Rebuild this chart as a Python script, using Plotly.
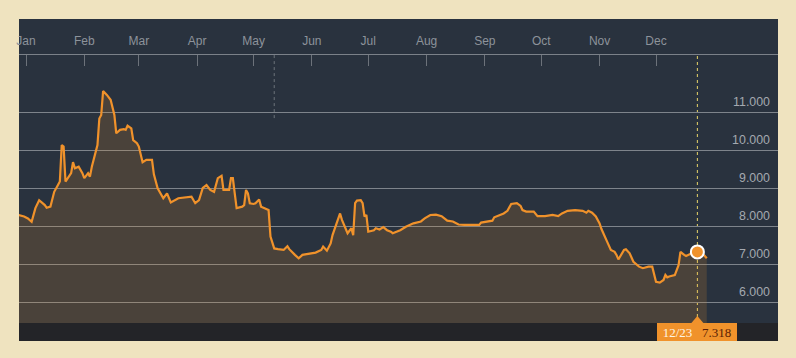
import plotly.graph_objects as go

# ---- data ----
dates = [
    "2015-12-28", "2015-12-31", "2016-01-02", "2016-01-04", "2016-01-06", "2016-01-08",
    "2016-01-11", "2016-01-12", "2016-01-14", "2016-01-16", "2016-01-18", "2016-01-19",
    "2016-01-20", "2016-01-21", "2016-01-22", "2016-01-24", "2016-01-25", "2016-01-26",
    "2016-01-27", "2016-01-29", "2016-01-31", "2016-02-01", "2016-02-03", "2016-02-04",
    "2016-02-05", "2016-02-08", "2016-02-09", "2016-02-10", "2016-02-11", "2016-02-13",
    "2016-02-15", "2016-02-17", "2016-02-18", "2016-02-20", "2016-02-22", "2016-02-23",
    "2016-02-24", "2016-02-26", "2016-02-27", "2016-02-29", "2016-03-01", "2016-03-03",
    "2016-03-05", "2016-03-08", "2016-03-09", "2016-03-11", "2016-03-13", "2016-03-14",
    "2016-03-16", "2016-03-17", "2016-03-18", "2016-03-22", "2016-03-25", "2016-03-29",
    "2016-03-31", "2016-04-02", "2016-04-04", "2016-04-06", "2016-04-08", "2016-04-10",
    "2016-04-12", "2016-04-14", "2016-04-15", "2016-04-18", "2016-04-19", "2016-04-20",
    "2016-04-21", "2016-04-22", "2016-04-25", "2016-04-26", "2016-04-27", "2016-04-28",
    "2016-04-29", "2016-05-01", "2016-05-02", "2016-05-04", "2016-05-05", "2016-05-07",
    "2016-05-09", "2016-05-10", "2016-05-12", "2016-05-14", "2016-05-17", "2016-05-19",
    "2016-05-20", "2016-05-23", "2016-05-25", "2016-05-27", "2016-05-30", "2016-06-03",
    "2016-06-06", "2016-06-07", "2016-06-09", "2016-06-11", "2016-06-12", "2016-06-14",
    "2016-06-15", "2016-06-16", "2016-06-17", "2016-06-19", "2016-06-20", "2016-06-22",
    "2016-06-23", "2016-06-24", "2016-06-25", "2016-06-27", "2016-06-28", "2016-06-29",
    "2016-06-30", "2016-07-01", "2016-07-04", "2016-07-05", "2016-07-07", "2016-07-09",
    "2016-07-11", "2016-07-13", "2016-07-14", "2016-07-18", "2016-07-21", "2016-07-25",
    "2016-07-29", "2016-07-31", "2016-08-03", "2016-08-06", "2016-08-09", "2016-08-12",
    "2016-08-15", "2016-08-18", "2016-08-21", "2016-08-29", "2016-08-30", "2016-09-05",
    "2016-09-06", "2016-09-11", "2016-09-13", "2016-09-15", "2016-09-18", "2016-09-20",
    "2016-09-21", "2016-09-23", "2016-09-27", "2016-09-29", "2016-10-03", "2016-10-07",
    "2016-10-10", "2016-10-12", "2016-10-15", "2016-10-19", "2016-10-23", "2016-10-25",
    "2016-10-26", "2016-10-28", "2016-10-30", "2016-11-01", "2016-11-02", "2016-11-05",
    "2016-11-07", "2016-11-09", "2016-11-10", "2016-11-11", "2016-11-14", "2016-11-15",
    "2016-11-17", "2016-11-19", "2016-11-22", "2016-11-24", "2016-11-27", "2016-11-29",
    "2016-11-30", "2016-12-01", "2016-12-03", "2016-12-05", "2016-12-06", "2016-12-07",
    "2016-12-08", "2016-12-11", "2016-12-13", "2016-12-14", "2016-12-16", "2016-12-17",
    "2016-12-20", "2016-12-23", "2016-12-25", "2016-12-28",
]
values = [
    8.29, 8.25, 8.20, 8.11, 8.47, 8.68,
    8.55, 8.48, 8.51, 8.90, 9.08, 9.17,
    10.13, 10.09, 9.17, 9.30, 9.39, 9.68,
    9.52, 9.56, 9.39, 9.26, 9.39, 9.30,
    9.56, 10.13, 10.83, 10.92, 11.55, 11.45,
    11.32, 10.92, 10.44, 10.53, 10.55, 10.53,
    10.64, 10.57, 10.26, 10.18, 10.09, 9.68,
    9.74, 9.74, 9.36, 8.99, 8.82, 8.73,
    8.86, 8.75, 8.62, 8.73, 8.75, 8.77,
    8.60, 8.68, 9.00, 9.08, 8.95, 8.90,
    9.26, 9.32, 8.95, 8.95, 9.26, 9.26,
    8.86, 8.47, 8.51, 8.55, 8.95, 8.86,
    8.60, 8.58, 8.60, 8.70, 8.51, 8.47,
    8.42, 7.72, 7.41, 7.39, 7.37, 7.47,
    7.39, 7.24, 7.15, 7.24, 7.26, 7.30,
    7.37, 7.46, 7.35, 7.54, 7.76, 8.07,
    8.20, 8.33, 8.16, 7.89, 7.81, 7.94,
    7.76, 8.60, 8.67, 8.68, 8.60, 8.25,
    8.29, 7.85, 7.89, 7.94, 7.91, 7.97,
    7.89, 7.85, 7.81, 7.89, 7.98, 8.07,
    8.12, 8.20, 8.29, 8.30, 8.26, 8.14,
    8.12, 8.04, 8.03, 8.03, 8.09, 8.14,
    8.23, 8.33, 8.40, 8.58, 8.60, 8.53,
    8.42, 8.38, 8.38, 8.26, 8.26, 8.29,
    8.26, 8.33, 8.40, 8.42, 8.40, 8.35,
    8.40, 8.35, 8.25, 8.07, 7.92, 7.59,
    7.37, 7.32, 7.24, 7.12, 7.37, 7.39,
    7.28, 7.06, 6.93, 6.89, 6.93, 6.93,
    6.71, 6.53, 6.51, 6.58, 6.71, 6.65,
    6.67, 6.71, 6.97, 7.32, 7.24, 7.21,
    7.28, 7.318, 7.32, 7.15,
]
month_ticks = [
    "2016-01-01", "2016-02-01", "2016-03-01", "2016-04-01", "2016-05-01", "2016-06-01",
    "2016-07-01", "2016-08-01", "2016-09-01", "2016-10-01", "2016-11-01", "2016-12-01",
]
y_ticks = [6, 7, 8, 9, 10, 11]
highlight_date = "2016-12-23"
highlight_label = "12/23"
event_date = "2016-05-12"

hl_value = values[dates.index(highlight_date)]

# ---- styling ----
BG = "#29323e"
ORANGE = "#f0922b"
CREAM = "#efe3bf"
x_range = ["2015-12-28 06:43", "2017-02-03 21:00"]
y_range = [4.974, 12.5]
bar_top = 18 / 286  # bottom dark bar height (paper fraction)

fig = go.Figure()
fig.add_trace(go.Scatter(
    x=dates, y=values, mode="lines",
    line=dict(color=ORANGE, width=2.2),
    fill="tozeroy", fillcolor="rgba(240,147,43,0.17)",
    hoverinfo="skip", showlegend=False,
))
fig.add_trace(go.Scatter(
    x=[highlight_date], y=[hl_value], mode="markers",
    marker=dict(size=13, color=ORANGE, line=dict(color="#ffffff", width=2)),
    hoverinfo="skip", showlegend=False,
))

shapes = [
    dict(type="rect", xref="paper", yref="paper", x0=0, x1=1, y0=0, y1=1 + 36 / 286,
         fillcolor=BG, line=dict(width=0), layer="below"),
    dict(type="line", xref="x", yref="y", x0=event_date, x1=event_date,
         y0=10.84, y1=y_range[1], line=dict(color="#6d737b", width=1, dash="dot"),
         layer="below"),
    dict(type="line", xref="x", yref="paper", x0=highlight_date, x1=highlight_date,
         y0=bar_top, y1=1, line=dict(color="#e8d46a", width=1, dash="dot"),
         layer="below"),
    dict(type="rect", xref="paper", yref="paper", x0=0, x1=1, y0=0, y1=bar_top,
         fillcolor="#232428", line=dict(width=0), layer="above"),
    dict(type="path", xref="x", yref="paper", xsizemode="pixel", ysizemode="pixel",
         xanchor=highlight_date, yanchor=bar_top, path="M -6,0 L 6,0 L 0,7 Z",
         fillcolor=ORANGE, line=dict(width=0), layer="above"),
]

annotations = [
    dict(x=highlight_date, xref="x", y=0, yref="paper", yanchor="bottom",
         xanchor="center", showarrow=False, width=80, height=18,
         bgcolor=ORANGE, borderpad=0, borderwidth=0,
         text=("<span style='color:#fff4e2'>" + highlight_label + "</span>"
               "\u00a0\u00a0\u00a0<span style='color:#5a1e05'>" + f"{hl_value:.3f}" + "</span>"),
         font=dict(family="Liberation Serif, serif", size=13)),
]

fig.update_layout(
    width=796, height=358,
    margin=dict(l=19, r=18, t=55, b=17, pad=0),
    paper_bgcolor=CREAM, plot_bgcolor=BG,
    shapes=shapes, annotations=annotations,
    showlegend=False,
    xaxis=dict(
        type="date", range=x_range, side="top",
        showgrid=False, zeroline=False,
        showline=True, linecolor="#7b8189", linewidth=1,
        ticks="inside", ticklen=11, tickwidth=1, tickcolor="#6c727a",
        tickvals=month_ticks, tickformat="%b", ticklabelstandoff=4,
        tickfont=dict(family="Liberation Sans, Arial, sans-serif", size=12, color="#8d939b"),
        fixedrange=True,
    ),
    yaxis=dict(
        range=y_range, side="right",
        tickvals=y_ticks, tickformat=".3f",
        ticklabelposition="inside top", ticks="",
        ticklabelstandoff=5, ticklabelshift=-2,
        showgrid=True, gridcolor="#7e848b", gridwidth=1,
        zeroline=False, showline=False,
        tickfont=dict(family="Liberation Sans, Arial, sans-serif", size=12.4, color="#a4a9b0"),
        fixedrange=True,
    ),
)

fig.write_html(
    "out.html",
    config={"displayModeBar": False},
    post_script="document.body.style.margin='0';document.body.style.background='" + CREAM + "';",
)
